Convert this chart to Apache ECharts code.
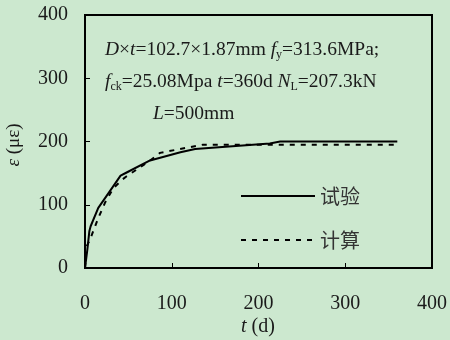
<!DOCTYPE html>
<html>
<head>
<meta charset="utf-8">
<script src="https://cdn.jsdelivr.net/npm/echarts@6/dist/echarts.min.js"></script>
<style>
  html, body { margin: 0; padding: 0; background: #cce8cf; }
  #chart { width: 450px; height: 340px; }
</style>
</head>
<body>
<div id="chart"></div>
<script>
// Measured strain over time (试验) and computed curve (计算)
const testT   = [0, 2.7, 5, 6.5, 15.3, 26.9, 41, 48, 75, 110, 127, 213, 225, 360];
const testEps = [0, 29, 58, 66, 95, 118, 146, 151, 170, 183, 188, 197, 200, 200];
const calcT   = [0, 1.8, 5.8, 15.3, 23, 32.6, 42.3, 48, 75, 86.5, 109, 136, 175, 220, 360];
const calcEps = [0, 34, 45, 79, 103, 126, 139, 145, 170, 182, 188, 195, 195, 195, 195];
const xTicks = [0, 100, 200, 300, 400];
const yTicks = [0, 100, 200, 300, 400];
const seriesNames = ['试验', '计算'];

const pairs = (xs, ys) => xs.map((x, i) => [x, ys[i]]);
const serif = 'Liberation Serif, Times New Roman, serif';
const cjk = 'Noto Sans CJK SC';

const annoRich = {
  i: { fontStyle: 'italic', fontFamily: serif, fontSize: 19.5 },
  s: { fontFamily: serif, fontSize: 12, verticalAlign: 'bottom', padding: [9, 0, 0, 0] }
};

const chart = echarts.init(document.getElementById('chart'));
chart.setOption({
  backgroundColor: '#cce8cf',
  animation: false,
  color: ['#000', '#000'],
  grid: {
    left: 85, right: 18, top: 15, bottom: 72,
    show: true, borderColor: '#000', borderWidth: 2, backgroundColor: 'transparent'
  },
  xAxis: {
    type: 'value', min: xTicks[0], max: xTicks[xTicks.length - 1], interval: 100,
    axisLine: { show: true, lineStyle: { color: '#000', width: 2 } },
    axisTick: { show: true, inside: true, length: 5, lineStyle: { color: '#000', width: 1 } },
    splitLine: { show: false },
    axisLabel: { margin: 26, fontFamily: serif, fontSize: 20, color: '#1a1a1a' }
  },
  yAxis: {
    type: 'value', min: yTicks[0], max: yTicks[yTicks.length - 1], interval: 100,
    axisLine: { show: true, lineStyle: { color: '#000', width: 2 } },
    axisTick: { show: true, inside: true, length: 5, lineStyle: { color: '#000', width: 1 } },
    splitLine: { show: false },
    axisLabel: { margin: 17, fontFamily: serif, fontSize: 20, color: '#1a1a1a' }
  },
  legend: {
    left: 240, top: 186, orient: 'vertical', itemGap: 24, padding: 0,
    itemWidth: 74, itemHeight: 14,
    itemStyle: { opacity: 0 },
    textStyle: { fontFamily: cjk, fontSize: 20, color: '#333' },
    data: seriesNames
  },
  series: [
    {
      name: seriesNames[0], type: 'line', data: pairs(testT, testEps),
      symbol: 'none', itemStyle: { color: '#000' },
      lineStyle: { color: '#000', width: 2, type: 'solid' }
    },
    {
      name: seriesNames[1], type: 'line', data: pairs(calcT, calcEps),
      symbol: 'none', itemStyle: { color: '#000' },
      lineStyle: { color: '#000', width: 2, type: [5, 6] }
    }
  ],
  graphic: [
    {
      type: 'text', left: 105, top: 40,
      style: {
        text: '{i|D}×{i|t}=102.7×1.87mm {i|f}{s|y}=313.6MPa;',
        font: '19.5px ' + serif, fill: '#1a1a1a', rich: annoRich
      }
    },
    {
      type: 'text', left: 105, top: 72,
      style: {
        text: '{i|f}{s|ck}=25.08Mpa {i|t}=360d {i|N}{s|L}=207.3kN',
        font: '19.5px ' + serif, fill: '#1a1a1a', rich: annoRich
      }
    },
    {
      type: 'text', left: 153, top: 104,
      style: {
        text: '{i|L}=500mm',
        font: '19.5px ' + serif, fill: '#1a1a1a', rich: annoRich
      }
    },
    {
      type: 'text', x: 258, y: 327,
      style: {
        text: '{i|t} (d)', font: '20px ' + serif, fill: '#1a1a1a',
        align: 'center', verticalAlign: 'middle',
        rich: { i: { fontStyle: 'italic', fontFamily: serif, fontSize: 20 } }
      }
    },
    {
      type: 'text', x: 14, y: 145, rotation: Math.PI / 2,
      style: {
        text: '{i|ε} (με)', font: '19px ' + serif, fill: '#1a1a1a',
        align: 'center', verticalAlign: 'middle',
        rich: { i: { fontStyle: 'italic', fontFamily: serif, fontSize: 19 } }
      }
    }
  ]
});
</script>
</body>
</html>
